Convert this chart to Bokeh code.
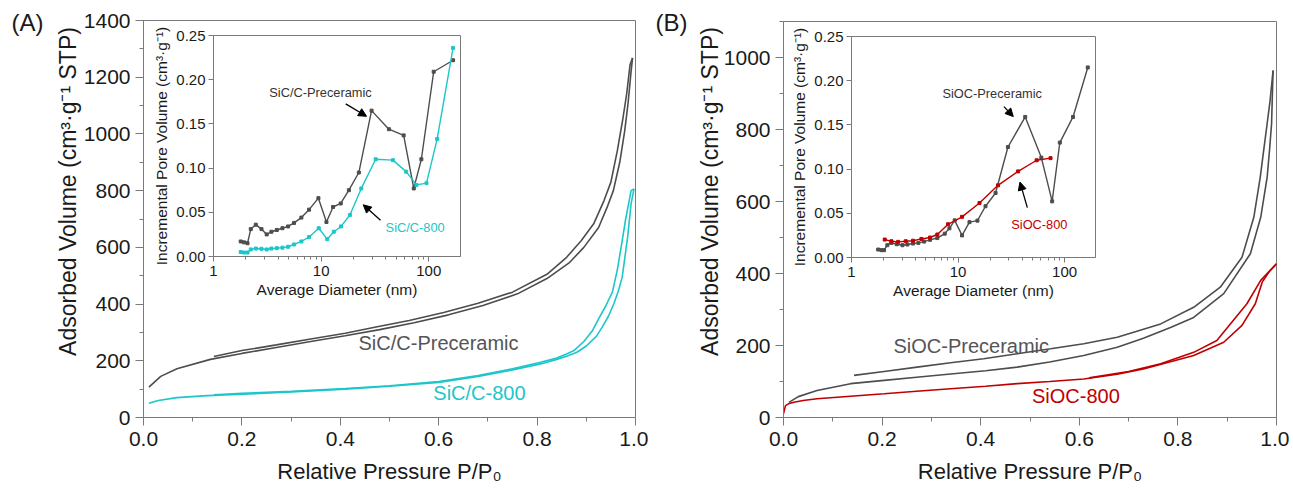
import math
from bokeh.plotting import figure
from bokeh.models import (Range1d, Label, Arrow, NormalHead, GridBox, FixedTicker,
                          PrintfTickFormatter)
from bokeh.embed import file_html
from bokeh.resources import INLINE

FONT = "Liberation Sans"
GRAY = "#4d4d4d"
CYAN = "#1cc6c9"
RED = "#c00000"
AXC = "#7a7a7a"

# ---------------- Panel A: isotherms ----------------
a_pre_ads_p = [0.011, 0.035, 0.068, 0.136, 0.20, 0.27, 0.34, 0.41, 0.48, 0.55, 0.62, 0.69, 0.76,
               0.82, 0.865, 0.895, 0.925, 0.942, 0.955, 0.968, 0.978, 0.985, 0.991, 0.994]
a_pre_ads_v = [107, 145, 172, 205, 226, 247, 268, 288, 310, 334, 362, 395, 436,
               490, 545, 600, 670, 740, 800, 900, 1010, 1110, 1220, 1268]
a_pre_des_p = [0.994, 0.989, 0.982, 0.974, 0.963, 0.950, 0.936, 0.915, 0.89, 0.86, 0.82, 0.75,
               0.68, 0.61, 0.54, 0.47, 0.41, 0.34, 0.27, 0.20, 0.143]
a_pre_des_v = [1268, 1245, 1140, 1050, 940, 830, 765, 683, 624, 565, 505, 442,
               403, 370, 342, 318, 297, 277, 256, 236, 215]
a_800_ads_p = [0.011, 0.03, 0.068, 0.13, 0.2, 0.3, 0.41, 0.5, 0.6, 0.68, 0.75, 0.807, 0.84,
               0.86, 0.881, 0.90, 0.92, 0.932, 0.945, 0.956, 0.965, 0.973, 0.984, 0.991, 0.997]
a_800_ads_v = [50, 60, 70, 77, 82, 90, 100, 110, 124, 145, 168, 189, 205,
               216, 230, 252, 285, 318, 357, 401, 445, 495, 636, 753, 806]
a_800_des_p = [0.997, 0.991, 0.986, 0.98, 0.973, 0.963, 0.953, 0.94, 0.925, 0.912, 0.895,
               0.875, 0.86, 0.84, 0.807, 0.75, 0.68, 0.6, 0.5, 0.41, 0.3, 0.2, 0.143]
a_800_des_v = [806, 800, 753, 700, 624, 520, 442, 395, 348, 305, 268,
               236, 224, 210, 195, 172, 148, 127, 112, 102, 92, 85, 80]

# ---------------- Panel B: isotherms ----------------
b_pre_ads_p = [0.011, 0.03, 0.068, 0.136, 0.204, 0.27, 0.339, 0.41, 0.474, 0.54, 0.609, 0.677,
               0.73, 0.785, 0.832, 0.893, 0.947, 0.968, 0.981, 0.986, 0.990, 0.993]
b_pre_ads_v = [42, 58, 75, 94, 103, 112, 121, 130, 140, 154, 172, 195,
               220, 250, 278, 344, 455, 556, 667, 745, 816, 964]
b_pre_des_p = [0.993, 0.987, 0.981, 0.974, 0.967, 0.954, 0.930, 0.886, 0.832, 0.765, 0.677,
               0.609, 0.542, 0.474, 0.406, 0.339, 0.271, 0.204, 0.143]
b_pre_des_v = [964, 880, 816, 742, 667, 556, 445, 362, 306, 260, 223,
               205, 191, 177, 163, 152, 140, 128, 117]
b_800_ads_p = [0.0, 0.002, 0.004, 0.01, 0.021, 0.04, 0.068, 0.136, 0.204, 0.27, 0.339, 0.41,
               0.474, 0.54, 0.609, 0.677, 0.73, 0.785, 0.832, 0.893, 0.930, 0.957, 0.971, 0.985, 1.0]
b_800_ads_v = [10, 22, 33, 38, 42.5, 47, 52, 59, 66, 73, 80, 87,
               94, 100, 107, 120, 135, 155, 172, 209, 256, 316, 376, 405, 427]
b_800_des_p = [1.0, 0.968, 0.940, 0.879, 0.832, 0.765, 0.70, 0.62]
b_800_des_v = [427, 381, 316, 214, 181, 149, 128, 110]

# ---------------- Insets: pore size distributions ----------------
ia_pre_d = [1.79, 1.92, 2.07, 2.22, 2.47, 2.79, 3.12, 3.45, 3.87, 4.37, 4.93, 5.60, 6.55, 7.72,
            9.43, 11.2, 12.9, 15.2, 18.1, 22.4, 29.4, 42.6, 58.4, 72.5, 85.3, 111, 168]
ia_pre_v = [0.017, 0.016, 0.015, 0.031, 0.036, 0.031, 0.025, 0.028, 0.030, 0.032, 0.034, 0.038,
            0.044, 0.053, 0.066, 0.039, 0.056, 0.060, 0.075, 0.095, 0.165, 0.144, 0.137, 0.077,
            0.110, 0.209, 0.222]
ia_800_d = [1.79, 1.92, 2.07, 2.22, 2.47, 2.79, 3.12, 3.45, 3.87, 4.37, 4.93, 5.60, 6.55, 7.72,
            9.5, 11.4, 13.1, 15.3, 18.5, 23.6, 32.1, 46.4, 61.6, 76.8, 95.2, 119.6, 168]
ia_800_v = [0.005, 0.0045, 0.0045, 0.008, 0.009, 0.0087, 0.008, 0.009, 0.0094, 0.010, 0.011,
            0.0136, 0.017, 0.022, 0.032, 0.0196, 0.028, 0.034, 0.047, 0.077, 0.110, 0.109,
            0.096, 0.081, 0.083, 0.133, 0.236]
ib_pre_d = [1.78, 1.91, 2.02, 2.17, 2.37, 2.66, 3.01, 3.35, 3.78, 4.24, 4.80, 5.46, 6.39, 7.50,
            8.3, 9.3, 10.9, 12.8, 15.2, 18.1, 22.5, 29.4, 42.7, 60.5, 76.4, 90.2, 120, 165]
ib_pre_v = [0.009, 0.0083, 0.0083, 0.0139, 0.0165, 0.015, 0.0139, 0.0147, 0.0158, 0.0165,
            0.018, 0.020, 0.022, 0.027, 0.033, 0.042, 0.025, 0.040, 0.0417, 0.058, 0.073,
            0.125, 0.159, 0.113, 0.0635, 0.130, 0.159, 0.215]
ib_800_d = [2.05, 2.37, 2.74, 3.23, 3.78, 4.53, 5.46, 6.39, 8.06, 10.9, 15.9, 23.7, 36.6, 54.7, 73.8]
ib_800_v = [0.0203, 0.0184, 0.0177, 0.0184, 0.019, 0.021, 0.0226, 0.026, 0.0376, 0.046,
            0.0617, 0.0816, 0.0974, 0.110, 0.1124]

x_ticks = [0.0, 0.2, 0.4, 0.6, 0.8, 1.0]
x_minor = [0.1, 0.3, 0.5, 0.7, 0.9]
inset_y_ticks = [0.0, 0.05, 0.10, 0.15, 0.20, 0.25]
inset_x_ticks = [1, 10, 100]
inset_x_minor = [2, 3, 4, 5, 6, 7, 8, 9, 20, 30, 40, 50, 60, 70, 80, 90]

Y_TITLE = "Adsorbed Volume (cm³·g⁻¹ STP)"
X_TITLE = "Relative Pressure P/P₀"
IY_TITLE = "Incremental Pore Volume (cm³·g⁻¹)"
IX_TITLE = "Average Diameter (nm)"

CELL_H = 486


def style_axes(p, tick_size, title_size, maj_out, min_out):
    p.grid.visible = False
    p.outline_line_color = AXC
    p.outline_line_width = 1
    for ax in (p.xaxis[0], p.yaxis[0]):
        ax.axis_line_color = AXC
        ax.major_tick_line_color = AXC
        ax.minor_tick_line_color = AXC
        ax.major_tick_in = 0
        ax.minor_tick_in = 0
        ax.major_tick_out = maj_out
        ax.minor_tick_out = min_out
        ax.major_label_text_font = FONT
        ax.major_label_text_font_size = tick_size
        ax.major_label_text_color = "#1a1a1a"
        ax.axis_label_text_font = FONT
        ax.axis_label_text_font_size = title_size
        ax.axis_label_text_font_style = "normal"
        ax.axis_label_text_color = "#1a1a1a"


def main_fig(ymax, yticks, yminor, left, fw, right, top, fh):
    p = figure(output_backend="svg", toolbar_location=None,
               x_range=Range1d(0, 1), y_range=Range1d(0, ymax),
               frame_width=fw, frame_height=fh, frame_align=False,
               min_border_left=left, min_border_right=right,
               min_border_top=top, min_border_bottom=CELL_H - top - fh)
    p.background_fill_color = "white"
    p.border_fill_color = "white"
    style_axes(p, "21px", "22px", 8, 4)
    p.xaxis[0].ticker = FixedTicker(ticks=x_ticks, minor_ticks=x_minor)
    p.xaxis[0].formatter = PrintfTickFormatter(format="%.1f")
    p.yaxis[0].ticker = FixedTicker(ticks=yticks, minor_ticks=yminor)
    p.xaxis[0].major_label_standoff = 6
    p.yaxis[0].major_label_standoff = 5
    p.xaxis[0].axis_label_standoff = 10
    p.xaxis[0].axis_label = X_TITLE
    return p


def inset_fig(xmax, cell_w, left, fw, top, fh):
    p = figure(output_backend="svg", toolbar_location=None, x_axis_type="log",
               x_range=Range1d(1, xmax), y_range=Range1d(0, 0.25),
               frame_width=fw, frame_height=fh, frame_align=False,
               min_border_left=left, min_border_right=cell_w - left - fw,
               min_border_top=top, min_border_bottom=CELL_H - top - fh)
    p.background_fill_color = "white"
    p.background_fill_alpha = 1
    p.border_fill_alpha = 0
    style_axes(p, "15px", "15.5px", 5, 3)
    p.xaxis[0].ticker = FixedTicker(ticks=inset_x_ticks, minor_ticks=inset_x_minor)
    p.xaxis[0].formatter = PrintfTickFormatter(format="%d")
    p.yaxis[0].ticker = FixedTicker(ticks=inset_y_ticks)
    p.yaxis[0].formatter = PrintfTickFormatter(format="%.2f")
    p.xaxis[0].major_label_standoff = 4
    p.yaxis[0].major_label_standoff = 3
    p.xaxis[0].axis_label_standoff = 2
    p.yaxis[0].axis_label_standoff = 3
    p.xaxis[0].axis_label = IX_TITLE
    p.yaxis[0].axis_label = IY_TITLE
    return p


def overlay_fig(cell_w):
    # transparent text layer in pixel coordinates (origin top-left)
    p = figure(output_backend="svg", toolbar_location=None,
               x_range=Range1d(0, cell_w), y_range=Range1d(CELL_H, 0),
               frame_width=cell_w, frame_height=CELL_H, frame_align=False,
               min_border=0, x_axis_location=None, y_axis_location=None)
    p.grid.visible = False
    p.outline_line_color = None
    p.background_fill_alpha = 0
    p.border_fill_alpha = 0
    return p


def label(p, x, y, text, color, size, baseline="middle", align="left", angle=0.0):
    p.add_layout(Label(x=x, y=y, text=text, text_color=color, text_font=FONT,
                       text_font_size=size, text_baseline=baseline, text_align=align,
                       angle=angle))


def arrow(p, xs, ys, xe, ye):
    p.add_layout(Arrow(end=NormalHead(size=8, fill_color="black", line_color="black"),
                       x_start=xs, y_start=ys, x_end=xe, y_end=ye,
                       line_color="black", line_width=1.3))


WA, WB = 648, 641

# ---- main A
pa = main_fig(1400, [0, 200, 400, 600, 800, 1000, 1200, 1400],
              [100, 300, 500, 700, 900, 1100, 1300], 143, 492, WA - 143 - 492, 20, 397)
pa.line(a_pre_ads_p, a_pre_ads_v, line_color=GRAY, line_width=1.6)
pa.line(a_pre_des_p, a_pre_des_v, line_color=GRAY, line_width=1.6)
pa.line(a_800_ads_p, a_800_ads_v, line_color=CYAN, line_width=1.6)
pa.line(a_800_des_p, a_800_des_v, line_color=CYAN, line_width=1.6)
label(pa, 0.437, 261, "SiC/C-Preceramic", "#555555", "20px")
label(pa, 0.589, 85, "SiC/C-800", CYAN, "20px")

# ---- main B
pb = main_fig(1100, [0, 200, 400, 600, 800, 1000],
              [100, 300, 500, 700, 900, 1100], 135, 493, WB - 135 - 493, 21, 396)
pb.line(b_pre_ads_p, b_pre_ads_v, line_color=GRAY, line_width=1.6)
pb.line(b_pre_des_p, b_pre_des_v, line_color=GRAY, line_width=1.6)
pb.line(b_800_ads_p, b_800_ads_v, line_color=RED, line_width=1.6)
pb.line(b_800_des_p, b_800_des_v, line_color=RED, line_width=1.6)
label(pb, 0.223, 200, "SiOC-Preceramic", "#555555", "20px")
label(pb, 0.504, 61, "SiOC-800", RED, "20px")

# ---- inset A
ia = inset_fig(197, WA, 213, 247, 35, 221)
ia.line(ia_pre_d, ia_pre_v, line_color=GRAY, line_width=1.4)
ia.scatter(ia_pre_d, ia_pre_v, marker="square", size=3, color=GRAY)
ia.line(ia_800_d, ia_800_v, line_color=CYAN, line_width=1.4)
ia.scatter(ia_800_d, ia_800_v, marker="square", size=3, color=CYAN)
label(ia, 3.3, 0.1855, "SiC/C-Preceramic", "#333333", "12.8px")
label(ia, 39.7, 0.033, "SiC/C-800", CYAN, "12.8px")
arrow(ia, 16.9, 0.1726, 26.4, 0.1586)
arrow(ia, 35.6, 0.041, 24.6, 0.0585)

# ---- inset B
ib = inset_fig(195, WB, 203, 244, 36, 221)
ib.line(ib_pre_d, ib_pre_v, line_color=GRAY, line_width=1.4)
ib.scatter(ib_pre_d, ib_pre_v, marker="square", size=3, color=GRAY)
ib.line(ib_800_d, ib_800_v, line_color=RED, line_width=1.4)
ib.scatter(ib_800_d, ib_800_v, marker="square", size=3, color=RED)
label(ib, 7.13, 0.1857, "SiOC-Preceramic", "#333333", "12.8px")
label(ib, 31.6, 0.0376, "SiOC-800", RED, "12.8px")
arrow(ib, 27.0, 0.1707, 33.0, 0.1594)
arrow(ib, 44.7, 0.0564, 38.1, 0.0853)

# ---- text overlays (panel letters and y titles)
oa = overlay_fig(WA)
label(oa, 11, 8, "(A)", "#1a1a1a", "24px", baseline="top")
label(oa, 67, 191, Y_TITLE, "#1a1a1a", "23px", baseline="middle", align="center", angle=math.pi / 2)
ob = overlay_fig(WB)
label(ob, 7, 8, "(B)", "#1a1a1a", "24px", baseline="top")
label(ob, 61, 191, Y_TITLE, "#1a1a1a", "23px", baseline="middle", align="center", angle=math.pi / 2)

layout = GridBox(children=[(pa, 0, 0), (ia, 0, 0), (oa, 0, 0),
                           (pb, 0, 1), (ib, 0, 1), (ob, 0, 1)], spacing=0)

open("out.html", "w").write(file_html(layout, INLINE))
